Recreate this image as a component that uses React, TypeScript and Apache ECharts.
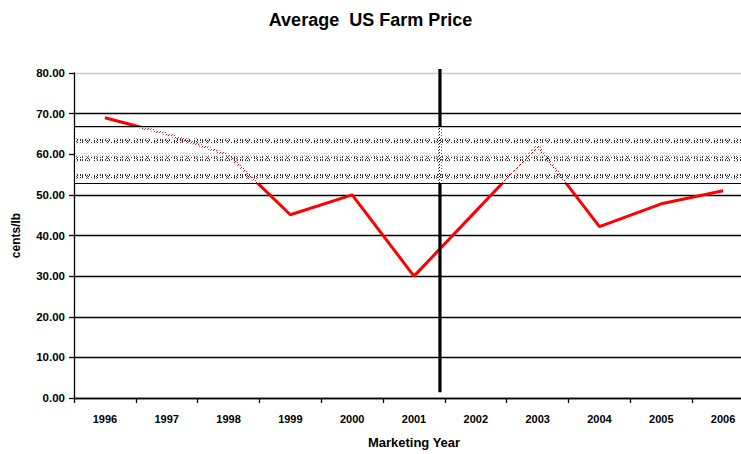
import React, { useEffect, useRef } from "react";
import * as echarts from "echarts";

const years = ["1996", "1997", "1998", "1999", "2000", "2001", "2002", "2003", "2004", "2005", "2006"];
const prices = [69.0, 65.0, 59.8, 45.1, 50.0, 30.0, 46.0, 62.0, 42.2, 47.8, 51.0];
const yTicks = [0, 10, 20, 30, 40, 50, 60, 70, 80];
// shaded reference band (cents/lb)
const bandRange = [52.8, 66.8];
const bandRows = [63.3, 58.9, 54.6];
// vertical marker position (category index units) and its vertical extent
const markerX = [5.42];
const markerSpan = [1.4, 81.0];

function makeTile(rows: string[], color: string, bg: string | null) {
  const h = rows.length;
  const w = rows[0].length;
  const c = document.createElement("canvas");
  c.width = w;
  c.height = h;
  const ctx = c.getContext("2d")!;
  if (bg) {
    ctx.fillStyle = bg;
    ctx.fillRect(0, 0, w, h);
  }
  for (let y = 0; y < h; y++) {
    for (let x = 0; x < w; x++) {
      const ch = rows[y][x];
      if (ch === "x") {
        ctx.fillStyle = color;
        ctx.fillRect(x, y, 1, 1);
      } else if (ch === "o") {
        ctx.clearRect(x, y, 1, 1);
      }
    }
  }
  return c;
}

export default function App() {
  const ref = useRef<HTMLDivElement>(null);
  useEffect(() => {
    document.body.style.margin = "0";
    if (!ref.current) return;
    const chart = echarts.init(ref.current, null, { renderer: "svg" });

    const holeTile = makeTile(["o..", "...", ".o."], "#fff", "#ffffff");
    const dotTile = makeTile(
      [
        "x.x..x.x.x....x..x..",
        "..x...x.x.....x.x...",
        "x.x....x...x..x..x..",
        "......x.x.....x.x...",
        "x.x..x...x.......x..",
      ],
      "#333333",
      null
    );

    const font = "Liberation Sans, Arial, sans-serif";

    chart.setOption({
      animation: false,
      title: {
        text: "Average  US Farm Price",
        left: "center",
        top: 6,
        textStyle: { fontFamily: font, fontSize: 18, fontWeight: "bold", color: "#000" },
      },
      grid: { left: 74, top: 73, width: 680, height: 325, outerBoundsMode: "none", containLabel: false },
      xAxis: [
        {
          type: "category",
          data: years,
          boundaryGap: true,
          axisLine: { onZero: false, lineStyle: { color: "#000", width: 1.3 } },
          axisTick: { show: true, length: 5, inside: false, lineStyle: { color: "#000", width: 1.3 } },
          axisLabel: { fontFamily: font, fontSize: 11, fontWeight: "bold", color: "#000", margin: 15 },
          name: "Marketing Year",
          nameLocation: "middle",
          nameGap: 38,
          nameTextStyle: { fontFamily: font, fontSize: 13, fontWeight: "bold", color: "#000" },
        },
        {
          type: "value",
          min: -0.5,
          max: 10.5,
          show: false,
        },
      ],
      yAxis: {
        type: "value",
        min: 0,
        max: 80,
        interval: 10,
        axisLine: { show: true, onZero: false, lineStyle: { color: "#000", width: 1.3 } },
        axisTick: { show: true, length: 5, lineStyle: { color: "#000", width: 1.3 } },
        axisLabel: {
          fontFamily: font,
          fontSize: 11.5,
          fontWeight: "bold",
          color: "#000",
          margin: 9,
          formatter: (v: number) => (yTicks.includes(v) ? v.toFixed(2) : ""),
        },
        splitLine: {
          show: true,
          lineStyle: {
            color: ["#000", "#000", "#000", "#000", "#000", "#000", "#000", "#000", "#c8c8c8"],
            width: 1.3,
          },
        },
        name: "cents/lb",
        nameLocation: "middle",
        nameGap: 52,
        nameRotate: 90,
        nameTextStyle: { fontFamily: font, fontSize: 12, fontWeight: "bold", color: "#000" },
      },
      series: [
        {
          type: "line",
          data: prices,
          xAxisIndex: 0,
          symbol: "none",
          z: 2,
          lineStyle: { color: "#ff0000", width: 3 },
        },
        {
          type: "custom",
          xAxisIndex: 1,
          z: 3,
          clip: false,
          data: [[markerX[0], markerSpan[0], markerSpan[1]]],
          renderItem: (params: any, api: any) => {
            const p0 = api.coord([api.value(0), api.value(1)]);
            const p1 = api.coord([api.value(0), api.value(2)]);
            return {
              type: "line",
              shape: { x1: p0[0], y1: p0[1], x2: p1[0], y2: p1[1] },
              style: { stroke: "#000", lineWidth: 3.2 },
            };
          },
        },
        {
          type: "custom",
          xAxisIndex: 1,
          z: 4,
          clip: false,
          data: [[-0.5, 10.5, bandRange[0], bandRange[1]]],
          renderItem: (params: any, api: any) => {
            const tl = api.coord([api.value(0), api.value(3)]);
            const br = api.coord([api.value(1), api.value(2)]);
            const w = br[0] - tl[0];
            const children: any[] = [
              {
                type: "rect",
                shape: { x: tl[0] + 1, y: tl[1], width: w, height: br[1] - tl[1] },
                style: {
                  fill: { image: holeTile, repeat: "repeat", imageWidth: 3, imageHeight: 3 },
                },
              },
            ];
            bandRows.forEach((r) => {
              const a = api.coord([api.value(0), r + 0.6]);
              const b = api.coord([api.value(1), r - 0.6]);
              children.push({
                type: "rect",
                shape: { x: a[0] + 1, y: a[1], width: w, height: b[1] - a[1] },
                style: {
                  fill: { image: dotTile, repeat: "repeat", imageWidth: 20, imageHeight: 5 },
                },
              });
            });
            children.push({
              type: "line",
              shape: { x1: tl[0], y1: tl[1], x2: br[0], y2: tl[1] },
              style: { stroke: "#000", lineWidth: 1.2 },
            });
            children.push({
              type: "line",
              shape: { x1: tl[0], y1: br[1], x2: br[0], y2: br[1] },
              style: { stroke: "#000", lineWidth: 1.2 },
            });
            return { type: "group", children };
          },
        },
      ],
    });
    return () => chart.dispose();
  }, []);
  return <div ref={ref} style={{ width: 741, height: 454 }} />;
}
